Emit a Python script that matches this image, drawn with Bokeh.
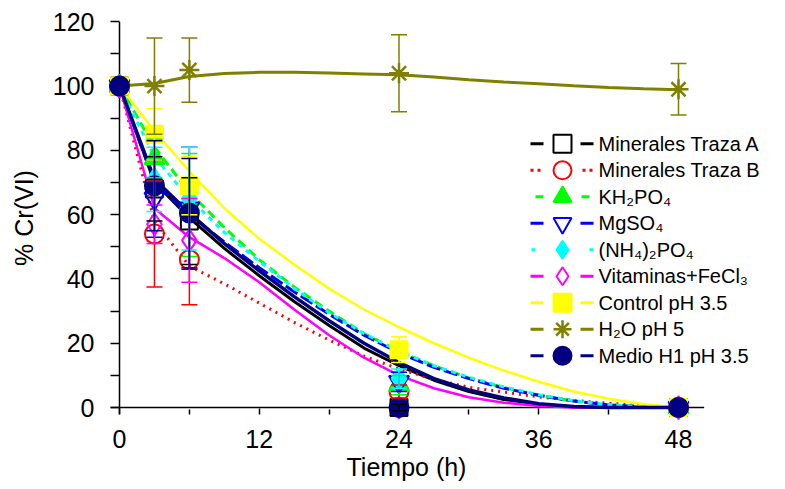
from bokeh.plotting import figure
from bokeh.models import Range1d, FixedTicker, Span, Whisker, ColumnDataSource, TeeHead, Label, Title
from bokeh.embed import file_html
from bokeh.resources import INLINE

# ---------------- data ----------------
time_h = [0, 3, 6, 24, 48]

labels = ["Minerales Traza A", "Minerales Traza B", "KH₂PO₄", "MgSO₄",
          "(NH₄)₂PO₄", "Vitaminas+FeCl₃", "Control pH 3.5", "H₂O pH 5",
          "Medio H1 pH 3.5"]

# measured points (% Cr(VI))
min_a    = [100, 68, 58, 0, 0]
min_b    = [100, 54, 46, 5, 0]
kh2po4   = [100, 77.5, 63, 7, 0]
mgso4    = [100, 65, 62, 8, 0]
nh4po4   = [100, 71, 65, 9, 0]
vitam    = [100, 57, 52, 0, 0]
control  = [100, 85, 69, 18, 0]
h2o      = [100, 100, 105, 104, 99]
medio_h1 = [100, 69, 60.5, 0, 0]

# error bars (±)
err_min_a    = [0, 10, 13.5, 1, 0]
err_min_b    = [0, 16.5, 14, 2, 0]
err_kh2po4   = [0, 6, 16, 3, 0]
err_mgso4    = [0, 12, 19, 3, 0]
err_nh4po4   = [0, 10, 16, 3, 0]
err_vitam    = [0, 6, 13, 0, 0]
err_control  = [0, 8, 9, 4, 0]
err_h2o      = [0, 15, 10, 12, 8]
err_medio_h1 = [0, 14, 17, 0, 0]

# fitted curves
fit_t = [0, 3, 6, 9, 12, 15, 18, 21, 24, 27, 30, 33, 36, 39, 42, 45, 48]
fit_min_a    = [100, 70, 59, 49.5, 41, 33, 25.5, 18.5, 13, 8.5, 5, 2.5, 1, 0.2, 0, 0, 0]
fit_min_b    = [100, 58, 44, 38.5, 32.5, 26.5, 21, 16, 12, 8.8, 6.3, 4.8, 3.3, 2.2, 1.3, 0.6, 0]
fit_kh2po4   = [100, 81, 67, 56, 46, 37.5, 30, 23, 17.5, 13, 9.2, 6.2, 3.8, 2, 0.8, 0.2, 0]
fit_mgso4    = [100, 70, 60, 51.5, 43.5, 36, 29, 22.5, 17, 12.5, 9, 6, 3.8, 2, 0.8, 0.2, 0]
fit_nh4po4   = [100, 78, 65, 54.5, 45.5, 37, 29.5, 23, 17.5, 13, 9.4, 6.4, 4, 2.1, 0.9, 0.3, 0]
fit_vitam    = [100, 62, 53, 46.5, 39, 30.5, 22.5, 15.5, 10, 6, 3.2, 1.5, 0.5, 0, 0, 0, 0]
fit_control  = [100, 86, 73.5, 62, 52.5, 44.5, 37, 30.5, 25, 20, 15.5, 11.5, 8, 5, 2.7, 1, 0]
fit_h2o      = [100, 100.8, 103, 103.9, 104.3, 104.3, 104.1, 103.8, 103.5, 102.8, 102, 101.3, 100.7, 100.1, 99.6, 99.2, 98.9]
fit_medio_h1 = [100, 71, 60.5, 51, 42.5, 34.5, 27, 20, 14, 9, 5.5, 3, 1.2, 0.3, 0, 0, 0]

x_ticks = [0, 12, 24, 36, 48]
x_tick_labels = ["0", "12", "24", "36", "48"]
x_minor = [6, 18, 30, 42]
y_ticks = [0, 20, 40, 60, 80, 100, 120]
y_tick_labels = ["0", "20", "40", "60", "80", "100", "120"]
y_minor = [10, 30, 50, 70, 90, 110]

# ---------------- styles / layout ----------------
FONT = "Liberation Sans"
styles = [
    # color, marker, filled, line_dash, line_width, legend_dash
    ("#000000", "square",            False, "solid", 3.0, "13 37 13 100"),
    ("#FF0000", "circle",            False, "2 5",   3.0, "3 4 3 42 3 4 3 100"),
    ("#00FF00", "triangle",          True,  "9 5",   3.0, "0 5 8 38 8 100"),
    ("#0000FF", "inverted_triangle", False, "14 4",  3.0, "13 37 13 100"),
    ("#00FFFF", "diamond",           True,  "5 5",   3.0, "0 1 4 54 4 100"),
    ("#FF00FF", "diamond",           False, "solid", 2.5, "13 37 13 100"),
    ("#FFFF00", "square",            True,  "solid", 2.5, "13 37 13 100"),
    ("#808000", "asterisk",          False, "solid", 3.0, "13 37 13 100"),
    ("#000080", "circle",            True,  "solid", 3.5, "13 37 13 100"),
]
marker_sizes = {"square": 17, "circle": 19, "triangle": 20, "inverted_triangle": 20,
                "diamond": 22, "asterisk": 20}

values = [min_a, min_b, kh2po4, mgso4, nh4po4, vitam, control, h2o, medio_h1]
errors = [err_min_a, err_min_b, err_kh2po4, err_mgso4, err_nh4po4, err_vitam,
          err_control, err_h2o, err_medio_h1]
fits = [fit_min_a, fit_min_b, fit_kh2po4, fit_mgso4, fit_nh4po4, fit_vitam,
        fit_control, fit_h2o, fit_medio_h1]

W, H = 785, 489
BL, BR, BT, BB = 110, 0, 21, 75
FW, FH = W - BL - BR, H - BT - BB
X0, X_AXIS_END = -0.773, 50.2
XSCALE = 11.646
Y0, Y1 = -2.17, 120.1

p = figure(width=W, height=H, x_range=Range1d(X0, X0 + FW / XSCALE), y_range=Range1d(Y0, Y1),
           output_backend="svg", toolbar_location=None,
           min_border_left=BL, min_border_right=BR, min_border_top=BT, min_border_bottom=BB)
p.outline_line_color = None
p.xgrid.visible = False
p.ygrid.visible = False
p.extra_x_ranges = {"lx": Range1d(0, FW)}
p.extra_y_ranges = {"ly": Range1d(0, FH)}

for ax, ticks, minor, tl in ((p.xaxis[0], x_ticks, x_minor, x_tick_labels),
                             (p.yaxis[0], y_ticks, y_minor, y_tick_labels)):
    ax.ticker = FixedTicker(ticks=ticks, minor_ticks=minor)
    ax.major_label_overrides = {t: l for t, l in zip(ticks, tl)}
    ax.axis_line_color = None
    ax.major_tick_out = 0
    ax.minor_tick_out = 0
    ax.major_tick_line_width = 1.5
    ax.minor_tick_line_width = 1.5
    ax.major_label_text_font = FONT
    ax.major_label_text_font_size = "25px"
    ax.major_label_text_color = "#000000"
    ax.axis_label_text_font = FONT
    ax.axis_label_text_font_size = "25px"
    ax.axis_label_text_font_style = "normal"
    ax.axis_label_text_color = "#000000"

p.xaxis.major_tick_in = 6
p.xaxis.minor_tick_in = 5
p.yaxis.major_tick_in = 9
p.yaxis.minor_tick_in = 9
p.xaxis.major_label_standoff = 15
p.yaxis.major_label_standoff = 16
p.yaxis.axis_label = "% Cr(VI)"
p.yaxis.axis_label_standoff = 12

# x-axis title, centred under the drawn x axis (not the wider frame)
p.add_layout(Title(text="Tiempo (h)", align="left", offset=236, standoff=0,
                   text_font=FONT, text_font_size="25px", text_font_style="normal",
                   text_color="black"), "below")

# axis lines
p.segment(x0=[X0], y0=[0], x1=[X_AXIS_END], y1=[0], line_color="black", line_width=1.5)
p.add_layout(Span(location=0, dimension="height", line_color="black", line_width=1.5, level="underlay"))

for vals, errs, fit, st in zip(values, errors, fits, styles):
    color, marker, filled, dash, lw, _ = st
    p.line(fit_t, fit, line_color=color, line_dash=dash, line_width=lw)
    p.scatter(time_h, vals, marker=marker, size=marker_sizes[marker], line_color=color,
              line_width=2.5 if marker == "asterisk" else 2,
              fill_color=color if filled else None, level="overlay")
    idx = [i for i, e in enumerate(errs) if e > 0]
    wsrc = ColumnDataSource(dict(
        t=[time_h[i] for i in idx],
        up=[vals[i] + errs[i] for i in idx],
        lo=[vals[i] - errs[i] for i in idx]))
    p.add_layout(Whisker(base="t", upper="up", lower="lo", source=wsrc,
                         line_color=color, line_width=1.5, level="overlay",
                         upper_head=TeeHead(size=16, line_color=color, line_width=1.5),
                         lower_head=TeeHead(size=16, line_color=color, line_width=1.5)))

# ---------------- legend (drawn in pixel units of the frame) ----------------
LEG_TOP, LEG_STEP = 270.7, 26.5
LEG_L0, LEG_L1, LEG_MX, LEG_TX = 420, 483, 452, 488
for i, (lab, st) in enumerate(zip(labels, styles)):
    color, marker, filled, dash, lw, leg_dash = st
    yy = LEG_TOP - LEG_STEP * i
    p.segment(x0=[LEG_L0], y0=[yy], x1=[LEG_L1], y1=[yy], line_color=color, line_width=3,
              line_dash=leg_dash, x_range_name="lx", y_range_name="ly")
    p.scatter([LEG_MX], [yy], marker=marker, size=18, line_color=color,
              line_width=2.5 if marker == "asterisk" else 2,
              fill_color=color if filled else "white", x_range_name="lx", y_range_name="ly")
    p.add_layout(Label(x=LEG_TX, y=yy, text=lab, text_font=FONT, text_font_size="20px",
                       text_baseline="middle", text_align="left", text_color="black",
                       x_range_name="lx", y_range_name="ly"))

open("out.html", "w").write(file_html(p, INLINE))
